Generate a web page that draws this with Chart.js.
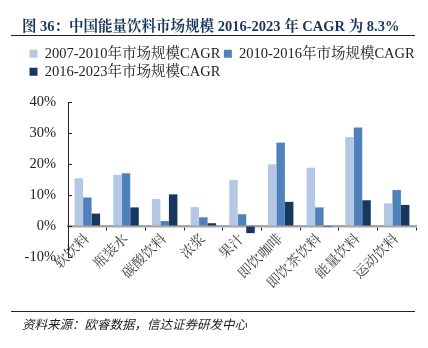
<!DOCTYPE html>
<html>
<head>
<meta charset="utf-8">
<script src="https://cdn.jsdelivr.net/npm/chart.js@4.4.1/dist/chart.umd.min.js"></script>
<style>
  html, body { margin: 0; padding: 0; background: #fff; }
  #page { position: relative; width: 428px; height: 348px; overflow: hidden; }
  #chart { position: absolute; left: 0; top: 0; }
  .title {
    position: absolute; left: 22px; top: 14px; white-space: nowrap;
    font: bold 14.5px 'Liberation Serif', 'Noto Serif CJK SC', 'Noto Sans CJK SC', serif;
    color: #1b365d;
  }
  .rule { position: absolute; left: 11px; width: 404px; height: 1px; background: #222; }
  .source {
    position: absolute; left: 22px; top: 314px; white-space: nowrap;
    font: italic 12.5px 'Liberation Serif', 'Noto Sans CJK SC', serif;
    color: #222;
  }
</style>
</head>
<body>
<div id="page">
  <canvas id="chart" width="428" height="348"></canvas>
  <div class="title">图 36：中国能量饮料市场规模 2016-2023 年 CAGR 为 8.3%</div>
  <div class="rule" style="top:35px"></div>
  <div class="rule" style="top:311px"></div>
  <div class="source">资料来源：欧睿数据，信达证券研发中心</div>
</div>
<script>
// 各品类市场规模年复合增速（%）
const categories = ['软饮料', '瓶装水', '碳酸饮料', '浓浆', '果汁', '即饮咖啡', '即饮茶饮料', '能量饮料', '运动饮料'];
const seriesNames = ['2007-2010年市场规模CAGR', '2010-2016年市场规模CAGR', '2016-2023年市场规模CAGR'];
const cagr2007_2010 = [15.4, 16.5, 8.7, 6.1, 14.8, 19.9, 18.8, 28.7, 7.3];
const cagr2010_2016 = [9.2, 17.0, 1.6, 2.8, 3.8, 26.9, 6.0, 31.8, 11.6];
const cagr2016_2023 = [4.0, 6.0, 10.2, 0.9, -2.3, 7.8, -0.3, 8.3, 6.8];
const yTicks = [-10, 0, 10, 20, 30, 40];

const colors = ['#b4c8e6', '#4f81bd', '#17375e'];
const serif = "'Liberation Serif', 'Noto Serif CJK SC', 'Noto Sans CJK SC', serif";

// 图例高度固定（绘图区从 y=102 开始），整体右移到 x≈27
const legendBox = {
    id: 'legendBox',
    beforeInit(chart) {
        const legend = chart.legend;
        const fit = legend.fit;
        const draw = legend.draw;
        legend.fit = function () {
            fit.call(this);
            this.height = 59;
        };
        legend.draw = function () {
            const ctx = this.ctx;
            ctx.save();
            ctx.translate(26, 0);
            draw.call(this);
            ctx.restore();
        };
    }
};

// y 轴刻度线画在轴内侧
const innerTicks = {
    id: 'innerTicks',
    afterDraw(chart) {
        const y = chart.scales.y;
        const ctx = chart.ctx;
        ctx.save();
        ctx.strokeStyle = '#222';
        ctx.lineWidth = 1;
        yTicks.forEach(v => {
            const py = Math.round(y.getPixelForValue(v)) + 0.5;
            ctx.beginPath();
            ctx.moveTo(y.right, py);
            ctx.lineTo(y.right + 4, py);
            ctx.stroke();
        });
        ctx.restore();
    }
};

const datasets = [cagr2007_2010, cagr2010_2016, cagr2016_2023].map((data, i) => ({
    label: seriesNames[i],
    data: data,
    backgroundColor: colors[i],
    borderWidth: 0,
    categoryPercentage: 0.66,
    barPercentage: 1.0
}));

new Chart(document.getElementById('chart'), {
    type: 'bar',
    data: { labels: categories, datasets: datasets },
    plugins: [legendBox, innerTicks],
    options: {
        responsive: false,
        animation: false,
        layout: { padding: { left: 0, right: 12, top: 43, bottom: 91 } },
        plugins: {
            tooltip: { enabled: false },
            legend: {
                position: 'top',
                align: 'start',
                labels: {
                    boxWidth: 8,
                    boxHeight: 8,
                    padding: 3.5,
                    color: '#222',
                    font: { family: serif, size: 14.5 }
                }
            }
        },
        scales: {
            x: {
                position: { y: 0 },
                afterFit(scale) { scale.height = 0; },
                border: { color: '#a6a6a6', width: 2.5 },
                grid: { drawOnChartArea: false, offset: true, tickLength: 3, color: '#222' },
                ticks: {
                    autoSkip: false,
                    minRotation: 45,
                    maxRotation: 45,
                    padding: 2,
                    color: '#444',
                    font: { family: serif, size: 14 }
                }
            },
            y: {
                min: -10,
                max: 40,
                afterFit(scale) { scale.width = 68; },
                afterBuildTicks(scale) { scale.ticks = yTicks.map(v => ({ value: v })); },
                border: { color: '#222', width: 1 },
                grid: { display: true, drawOnChartArea: false, drawTicks: false },
                ticks: {
                    padding: 12,
                    color: '#222',
                    font: { family: serif, size: 14.5 },
                    callback: v => v + '%'
                }
            }
        }
    }
});
</script>
</body>
</html>
